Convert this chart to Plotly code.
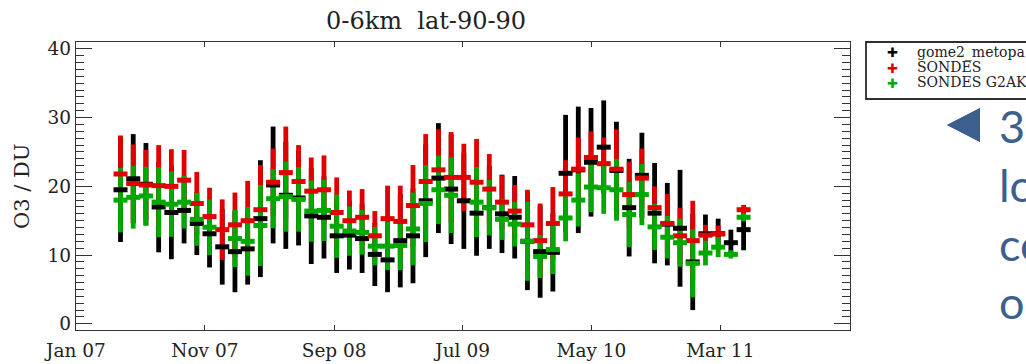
import plotly.graph_objects as go

# ---------------- data ----------------
dates = [
    "2007-04-16", "2007-05-16", "2007-06-15", "2007-07-15", "2007-08-14",
    "2007-09-13", "2007-10-13", "2007-11-12", "2007-12-12", "2008-01-11",
    "2008-02-10", "2008-03-11", "2008-04-10", "2008-05-10", "2008-06-09",
    "2008-07-09", "2008-08-08", "2008-09-07", "2008-10-07", "2008-11-06",
    "2008-12-06", "2009-01-05", "2009-02-04", "2009-03-06", "2009-04-05",
    "2009-05-05", "2009-06-04", "2009-07-04", "2009-08-03", "2009-09-02",
    "2009-10-02", "2009-11-01", "2009-12-01", "2009-12-31", "2010-01-30",
    "2010-03-01", "2010-03-31", "2010-04-30", "2010-05-30", "2010-06-29",
    "2010-07-29", "2010-08-28", "2010-09-27", "2010-10-27", "2010-11-26",
    "2010-12-26", "2011-01-25", "2011-02-24", "2011-03-26", "2011-04-25",
]

gome2_val = [19.5, 21.1, 20.3, 17.0, 16.2, 16.5, 14.6, 13.1, 11.2, 10.5,
             10.9, 15.3, 20.2, 18.7, 18.3, 15.7, 15.5, 12.8, 12.9, 12.4,
             10.1, 9.3, 12.1, 12.8, 17.9, 21.2, 19.6, 17.9, 16.1, 16.9,
             16.0, 15.5, 12.0, 10.5, 10.4, 21.9, 22.4, 23.5, 25.7, 22.3,
             16.9, 21.6, 16.1, 14.5, 13.9, 9.0, 13.1, 13.1, 11.8, 13.7]
gome2_err = [7.6, 6.5, 6.0, 6.6, 6.8, 4.8, 4.6, 4.9, 5.5, 5.9,
             5.2, 8.5, 8.5, 7.8, 6.9, 7.0, 6.0, 5.4, 5.0, 5.0,
             4.6, 4.7, 6.8, 6.9, 8.2, 8.0, 8.0, 7.0, 6.2, 6.0,
             5.7, 6.0, 7.1, 6.7, 5.7, 8.5, 9.2, 7.9, 6.8, 7.1,
             7.1, 6.2, 7.3, 6.0, 8.5, 7.0, 2.8, 2.2, 1.9, 3.0]

sonde_val = [21.8, 20.4, 20.2, 20.1, 20.0, 20.9, 17.5, 15.6, 13.7, 14.4,
             15.0, 16.6, 20.6, 22.0, 20.7, 19.3, 19.5, 16.2, 15.0, 15.5,
             12.8, 15.3, 14.9, 17.2, 20.7, 22.4, 21.3, 21.3, 20.6, 19.6,
             17.7, 16.4, 14.4, 12.1, 14.6, 18.9, 22.5, 24.2, 23.3, 22.5,
             18.8, 21.2, 16.9, 14.6, 12.8, 12.1, 12.9, 13.1, None, 16.6]
sonde_err = [5.6, 5.7, 5.1, 5.9, 5.4, 4.4, 4.6, 4.2, 4.4, 4.7,
             5.8, 6.5, 4.9, 6.7, 5.3, 4.9, 5.0, 5.1, 4.4, 4.1,
             3.6, 4.8, 5.2, 5.9, 6.9, 5.9, 6.6, 4.9, 6.3, 5.1,
             3.9, 3.8, 5.1, 5.4, 5.3, 4.9, 4.6, 3.8, 3.8, 5.8,
             4.8, 4.3, 3.1, 4.3, 4.1, 5.8, 1.5, 1.2, None, 0.7]

g2ak_val = [18.0, 18.4, 18.6, 17.7, 17.4, 17.7, 15.2, 14.05, None, 12.4,
            12.0, 14.3, 18.2, 18.5, 18.1, 16.4, 16.5, 14.2, 13.5, 13.3,
            11.3, 11.3, 11.4, 13.8, 17.5, 19.5, 18.7, None, 17.7, 16.9,
            15.2, 14.5, 12.0, 9.8, 10.8, 15.4, 18.0, 19.9, 19.8, 19.5,
            15.9, 18.8, 14.1, 12.6, 11.8, 8.8, 10.3, 11.15, 10.1, 15.5]
g2ak_err = [4.7, 4.55, 4.25, 5.1, 4.75, 3.85, 3.85, 4.05, None, 4.15,
            5.0, 5.9, 4.3, 5.1, 4.7, 4.45, 4.45, 4.6, 3.6, 3.25,
            2.8, 3.5, 3.6, 5.3, 5.6, 5.0, 5.5, None, 5.1, 4.05,
            3.0, 3.25, 5.75, 3.15, 3.55, 3.4, 3.85, 3.65, 3.8, 4.5,
            4.75, 4.45, 3.35, 3.1, 3.5, 4.95, 1.8, 1.45, 0.6, 0.6]

series_names = ["gome2_metopa", "SONDES", "SONDES G2AK"]
series_colors = ["#000000", "#e00000", "#00a800"]

year_lines = ["2008-01-01", "2009-01-01", "2010-01-01", "2011-01-01"]
x_tick_vals = ["2007-01-01", "2007-11-01", "2008-09-01",
               "2009-07-01", "2010-05-01", "2011-03-01"]
x_tick_text = ["Jan 07", "Nov 07", "Sep 08", "Jul 09", "May 10", "Mar 11"]
y_tick_vals = [0, 10, 20, 30, 40]

chart_title = "0-6km\u00a0\u00a0lat-90-90"
y_title = "O3 / DU"
side_lines = ["30", "lo", "co", "o"]

# ---------------- layout geometry ----------------
W, H = 1026, 364
ML, MR, MT, MB = 76, 176, 42, 34
PW, PH = W - ML - MR, H - MT - MB


def px(x):
    return (x - ML) / PW


def py(y):
    return (H - MB - y) / PH


SERIF = "DejaVu Serif"
fig = go.Figure()

vals = [gome2_val, sonde_val, g2ak_val]
errs = [gome2_err, sonde_err, g2ak_err]

# error bars (all series) first
for v, e, c, n in zip(vals, errs, series_colors, series_names):
    fig.add_trace(go.Scatter(
        x=dates, y=v, mode="markers", name=n, showlegend=False,
        marker=dict(size=2, opacity=0, color=c),
        error_y=dict(type="data", array=e, visible=True, thickness=4.8,
                     width=0, color=c),
        hoverinfo="skip"))

# then the centre marks
for v, c, n in zip(vals, series_colors, series_names):
    fig.add_trace(go.Scatter(
        x=dates, y=v, mode="markers", name=n, showlegend=False,
        marker=dict(symbol="line-ew", size=10,
                    line=dict(width=5, color=c), color=c)))

for yl in year_lines:
    fig.add_shape(type="line", x0=yl, x1=yl, xref="x", y0=0, y1=1,
                  yref="paper", line=dict(color="#333333", width=1.1),
                  layer="below")

annotations = [
    dict(text=chart_title, x=px(426), y=py(21), xref="paper", yref="paper",
         xanchor="center", yanchor="middle", showarrow=False,
         font=dict(family=SERIF, size=24, color="#222222")),
    dict(text=y_title, x=px(22), y=py(186), xref="paper", yref="paper",
         xanchor="center", yanchor="middle", showarrow=False, textangle=-90,
         font=dict(family=SERIF, size=21, color="#222222")),
]

# manual legend (box runs past the right edge)
shapes = [dict(type="rect", xref="paper", yref="paper",
               x0=px(866), x1=px(1120), y0=py(99), y1=py(42),
               line=dict(color="#222222", width=1.3))]
legend_y = [53, 68.5, 83]
for name, c, ly in zip(series_names, series_colors, legend_y):
    annotations.append(dict(text="\u271a", x=px(892), y=py(ly), xref="paper",
                            yref="paper", xanchor="center", yanchor="middle",
                            showarrow=False,
                            font=dict(family="DejaVu Sans", size=13, color=c)))
    annotations.append(dict(text=name, x=px(915), y=py(ly - 1), xref="paper",
                            yref="paper", xanchor="left", yanchor="middle",
                            showarrow=False,
                            font=dict(family=SERIF, size=14, color="#222222")))

# slide text overflowing at the right (cut by the page edge, as in the source)
BLUE = "#3c5f8e"
shapes.append(dict(type="path", xref="paper", yref="paper",
                   path="M {} {} L {} {} L {} {} Z".format(
                       px(947), py(125), px(980), py(108), px(980), py(142)),
                   fillcolor=BLUE, line=dict(width=0)))
side_y = [126, 185, 244, 302]
for t, sy in zip(side_lines, side_y):
    annotations.append(dict(text=t, x=px(997), y=py(sy), xref="paper",
                            yref="paper", xanchor="left", yanchor="middle",
                            showarrow=False,
                            font=dict(family="Lato", size=45, color=BLUE)))

axis_common = dict(showline=True, linecolor="#333333", linewidth=1.3,
                   mirror="ticks", showgrid=False, zeroline=False,
                   ticks="inside", tickcolor="#333333", tickwidth=1.2,
                   tickfont=dict(family=SERIF, size=18.5, color="#222222"))

fig.update_layout(
    width=W, height=H, margin=dict(l=ML, r=MR, t=MT, b=MB, autoexpand=False),
    paper_bgcolor="white", plot_bgcolor="white",
    xaxis=dict(type="date", range=["2007-01-01", "2012-01-01"],
               tickvals=x_tick_vals, ticktext=x_tick_text, ticklen=5,
               ticklabelstandoff=4, **axis_common),
    yaxis=dict(range=[-0.9, 41], tickvals=y_tick_vals, ticklen=16,
               minor=dict(dtick=1, tick0=0, ticks="inside", ticklen=8,
                          tickcolor="#333333", tickwidth=1),
               **axis_common),
    annotations=annotations, shapes=shapes, showlegend=False,
)

fig.write_html("out.html")
